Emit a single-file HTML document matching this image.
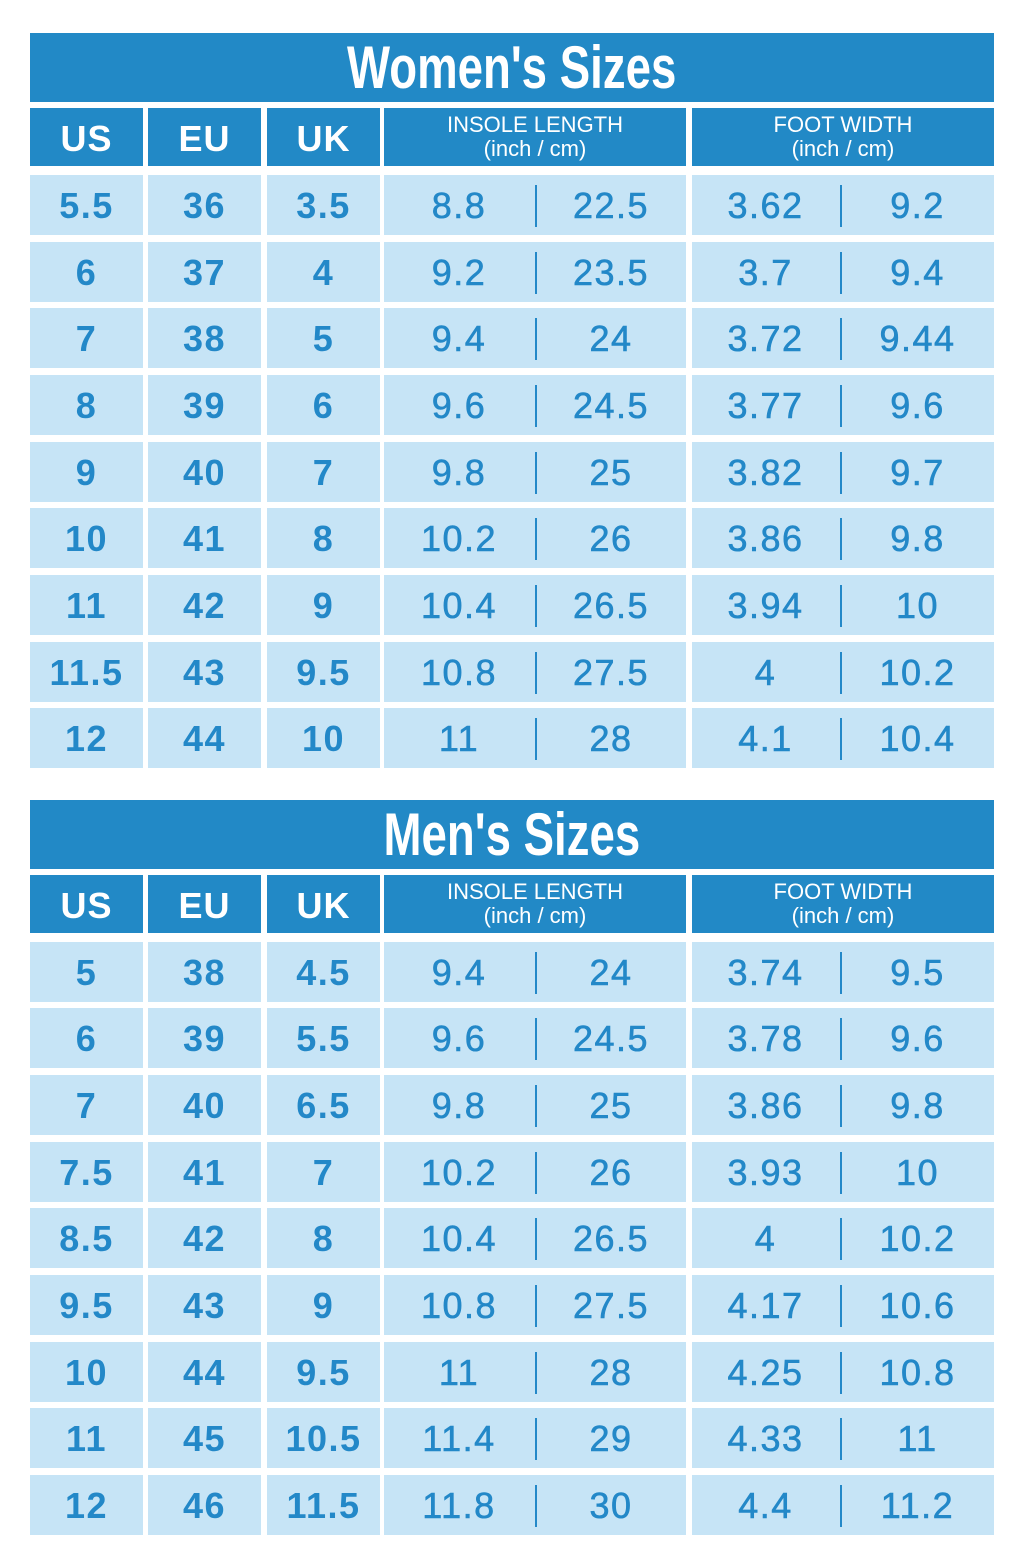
<!DOCTYPE html>
<html><head><meta charset="utf-8"><style>
body{margin:0;width:1024px;height:1564px;background:#fff;position:relative;font-family:"Liberation Sans",sans-serif;overflow:hidden}
.t{position:absolute;left:30px;width:964px;height:69px;background:#2289c6;color:#fff;text-align:center}
.t span{display:inline-block;font-weight:bold;font-size:60px;line-height:69px;transform:scaleX(0.76)}
.h,.r{position:absolute;left:0;width:1024px}
.h{height:58px}
.r{height:60px}
.h div,.r div{position:absolute;top:0;height:100%;text-align:center;box-sizing:border-box}
.h div{background:#2289c6;color:#fff}
.r div{background:#c6e4f6;color:#2388c8}
.a{left:30px;width:113px}.b{left:148px;width:113px}.c{left:267px;width:113px}
.d{left:384px;width:302px}.e{left:692px;width:302px}
.h .a,.h .b,.h .c{font-weight:bold;font-size:36px;line-height:62px;letter-spacing:1px}
.h .d,.h .e{font-size:22px;line-height:24px;padding-top:5px}
.r .a,.r .b,.r .c{font-weight:bold;font-size:36px;line-height:62px;letter-spacing:1.5px}
.r .d,.r .e{font-size:36px;line-height:62px;letter-spacing:1.5px;-webkit-text-stroke:0.6px #2388c8}
.r .d i,.r .e i{font-style:normal;position:absolute;top:0;width:50%}
.r i.l{left:0}.r i.m{right:0}
.r .d i.l{width:150px;left:0}.r .d i.m{left:152px;width:150px}
.r .e i.l{width:147px}.r .e i.m{left:149px;width:153px}
.r .d:after,.r .e:after{content:"";position:absolute;top:10px;height:42px;width:2px;background:#2388c8}
.r .d:after{left:151px}.r .e:after{left:148px}
</style></head><body>

<div class="t" style="top:33px"><span>Women's Sizes</span></div>
<div class="h" style="top:108px"><div class="a">US</div><div class="b">EU</div><div class="c">UK</div><div class="d">INSOLE LENGTH<br>(inch / cm)</div><div class="e">FOOT WIDTH<br>(inch / cm)</div></div>
<div class="r" style="top:175px"><div class="a">5.5</div><div class="b">36</div><div class="c">3.5</div><div class="d"><i class="l">8.8</i><i class="m">22.5</i></div><div class="e"><i class="l">3.62</i><i class="m">9.2</i></div></div>
<div class="r" style="top:242px"><div class="a">6</div><div class="b">37</div><div class="c">4</div><div class="d"><i class="l">9.2</i><i class="m">23.5</i></div><div class="e"><i class="l">3.7</i><i class="m">9.4</i></div></div>
<div class="r" style="top:308px"><div class="a">7</div><div class="b">38</div><div class="c">5</div><div class="d"><i class="l">9.4</i><i class="m">24</i></div><div class="e"><i class="l">3.72</i><i class="m">9.44</i></div></div>
<div class="r" style="top:375px"><div class="a">8</div><div class="b">39</div><div class="c">6</div><div class="d"><i class="l">9.6</i><i class="m">24.5</i></div><div class="e"><i class="l">3.77</i><i class="m">9.6</i></div></div>
<div class="r" style="top:442px"><div class="a">9</div><div class="b">40</div><div class="c">7</div><div class="d"><i class="l">9.8</i><i class="m">25</i></div><div class="e"><i class="l">3.82</i><i class="m">9.7</i></div></div>
<div class="r" style="top:508px"><div class="a">10</div><div class="b">41</div><div class="c">8</div><div class="d"><i class="l">10.2</i><i class="m">26</i></div><div class="e"><i class="l">3.86</i><i class="m">9.8</i></div></div>
<div class="r" style="top:575px"><div class="a">11</div><div class="b">42</div><div class="c">9</div><div class="d"><i class="l">10.4</i><i class="m">26.5</i></div><div class="e"><i class="l">3.94</i><i class="m">10</i></div></div>
<div class="r" style="top:642px"><div class="a">11.5</div><div class="b">43</div><div class="c">9.5</div><div class="d"><i class="l">10.8</i><i class="m">27.5</i></div><div class="e"><i class="l">4</i><i class="m">10.2</i></div></div>
<div class="r" style="top:708px"><div class="a">12</div><div class="b">44</div><div class="c">10</div><div class="d"><i class="l">11</i><i class="m">28</i></div><div class="e"><i class="l">4.1</i><i class="m">10.4</i></div></div>

<div class="t" style="top:800px"><span>Men's Sizes</span></div>
<div class="h" style="top:875px"><div class="a">US</div><div class="b">EU</div><div class="c">UK</div><div class="d">INSOLE LENGTH<br>(inch / cm)</div><div class="e">FOOT WIDTH<br>(inch / cm)</div></div>
<div class="r" style="top:942px"><div class="a">5</div><div class="b">38</div><div class="c">4.5</div><div class="d"><i class="l">9.4</i><i class="m">24</i></div><div class="e"><i class="l">3.74</i><i class="m">9.5</i></div></div>
<div class="r" style="top:1008px"><div class="a">6</div><div class="b">39</div><div class="c">5.5</div><div class="d"><i class="l">9.6</i><i class="m">24.5</i></div><div class="e"><i class="l">3.78</i><i class="m">9.6</i></div></div>
<div class="r" style="top:1075px"><div class="a">7</div><div class="b">40</div><div class="c">6.5</div><div class="d"><i class="l">9.8</i><i class="m">25</i></div><div class="e"><i class="l">3.86</i><i class="m">9.8</i></div></div>
<div class="r" style="top:1142px"><div class="a">7.5</div><div class="b">41</div><div class="c">7</div><div class="d"><i class="l">10.2</i><i class="m">26</i></div><div class="e"><i class="l">3.93</i><i class="m">10</i></div></div>
<div class="r" style="top:1208px"><div class="a">8.5</div><div class="b">42</div><div class="c">8</div><div class="d"><i class="l">10.4</i><i class="m">26.5</i></div><div class="e"><i class="l">4</i><i class="m">10.2</i></div></div>
<div class="r" style="top:1275px"><div class="a">9.5</div><div class="b">43</div><div class="c">9</div><div class="d"><i class="l">10.8</i><i class="m">27.5</i></div><div class="e"><i class="l">4.17</i><i class="m">10.6</i></div></div>
<div class="r" style="top:1342px"><div class="a">10</div><div class="b">44</div><div class="c">9.5</div><div class="d"><i class="l">11</i><i class="m">28</i></div><div class="e"><i class="l">4.25</i><i class="m">10.8</i></div></div>
<div class="r" style="top:1408px"><div class="a">11</div><div class="b">45</div><div class="c">10.5</div><div class="d"><i class="l">11.4</i><i class="m">29</i></div><div class="e"><i class="l">4.33</i><i class="m">11</i></div></div>
<div class="r" style="top:1475px"><div class="a">12</div><div class="b">46</div><div class="c">11.5</div><div class="d"><i class="l">11.8</i><i class="m">30</i></div><div class="e"><i class="l">4.4</i><i class="m">11.2</i></div></div>
</body></html>
